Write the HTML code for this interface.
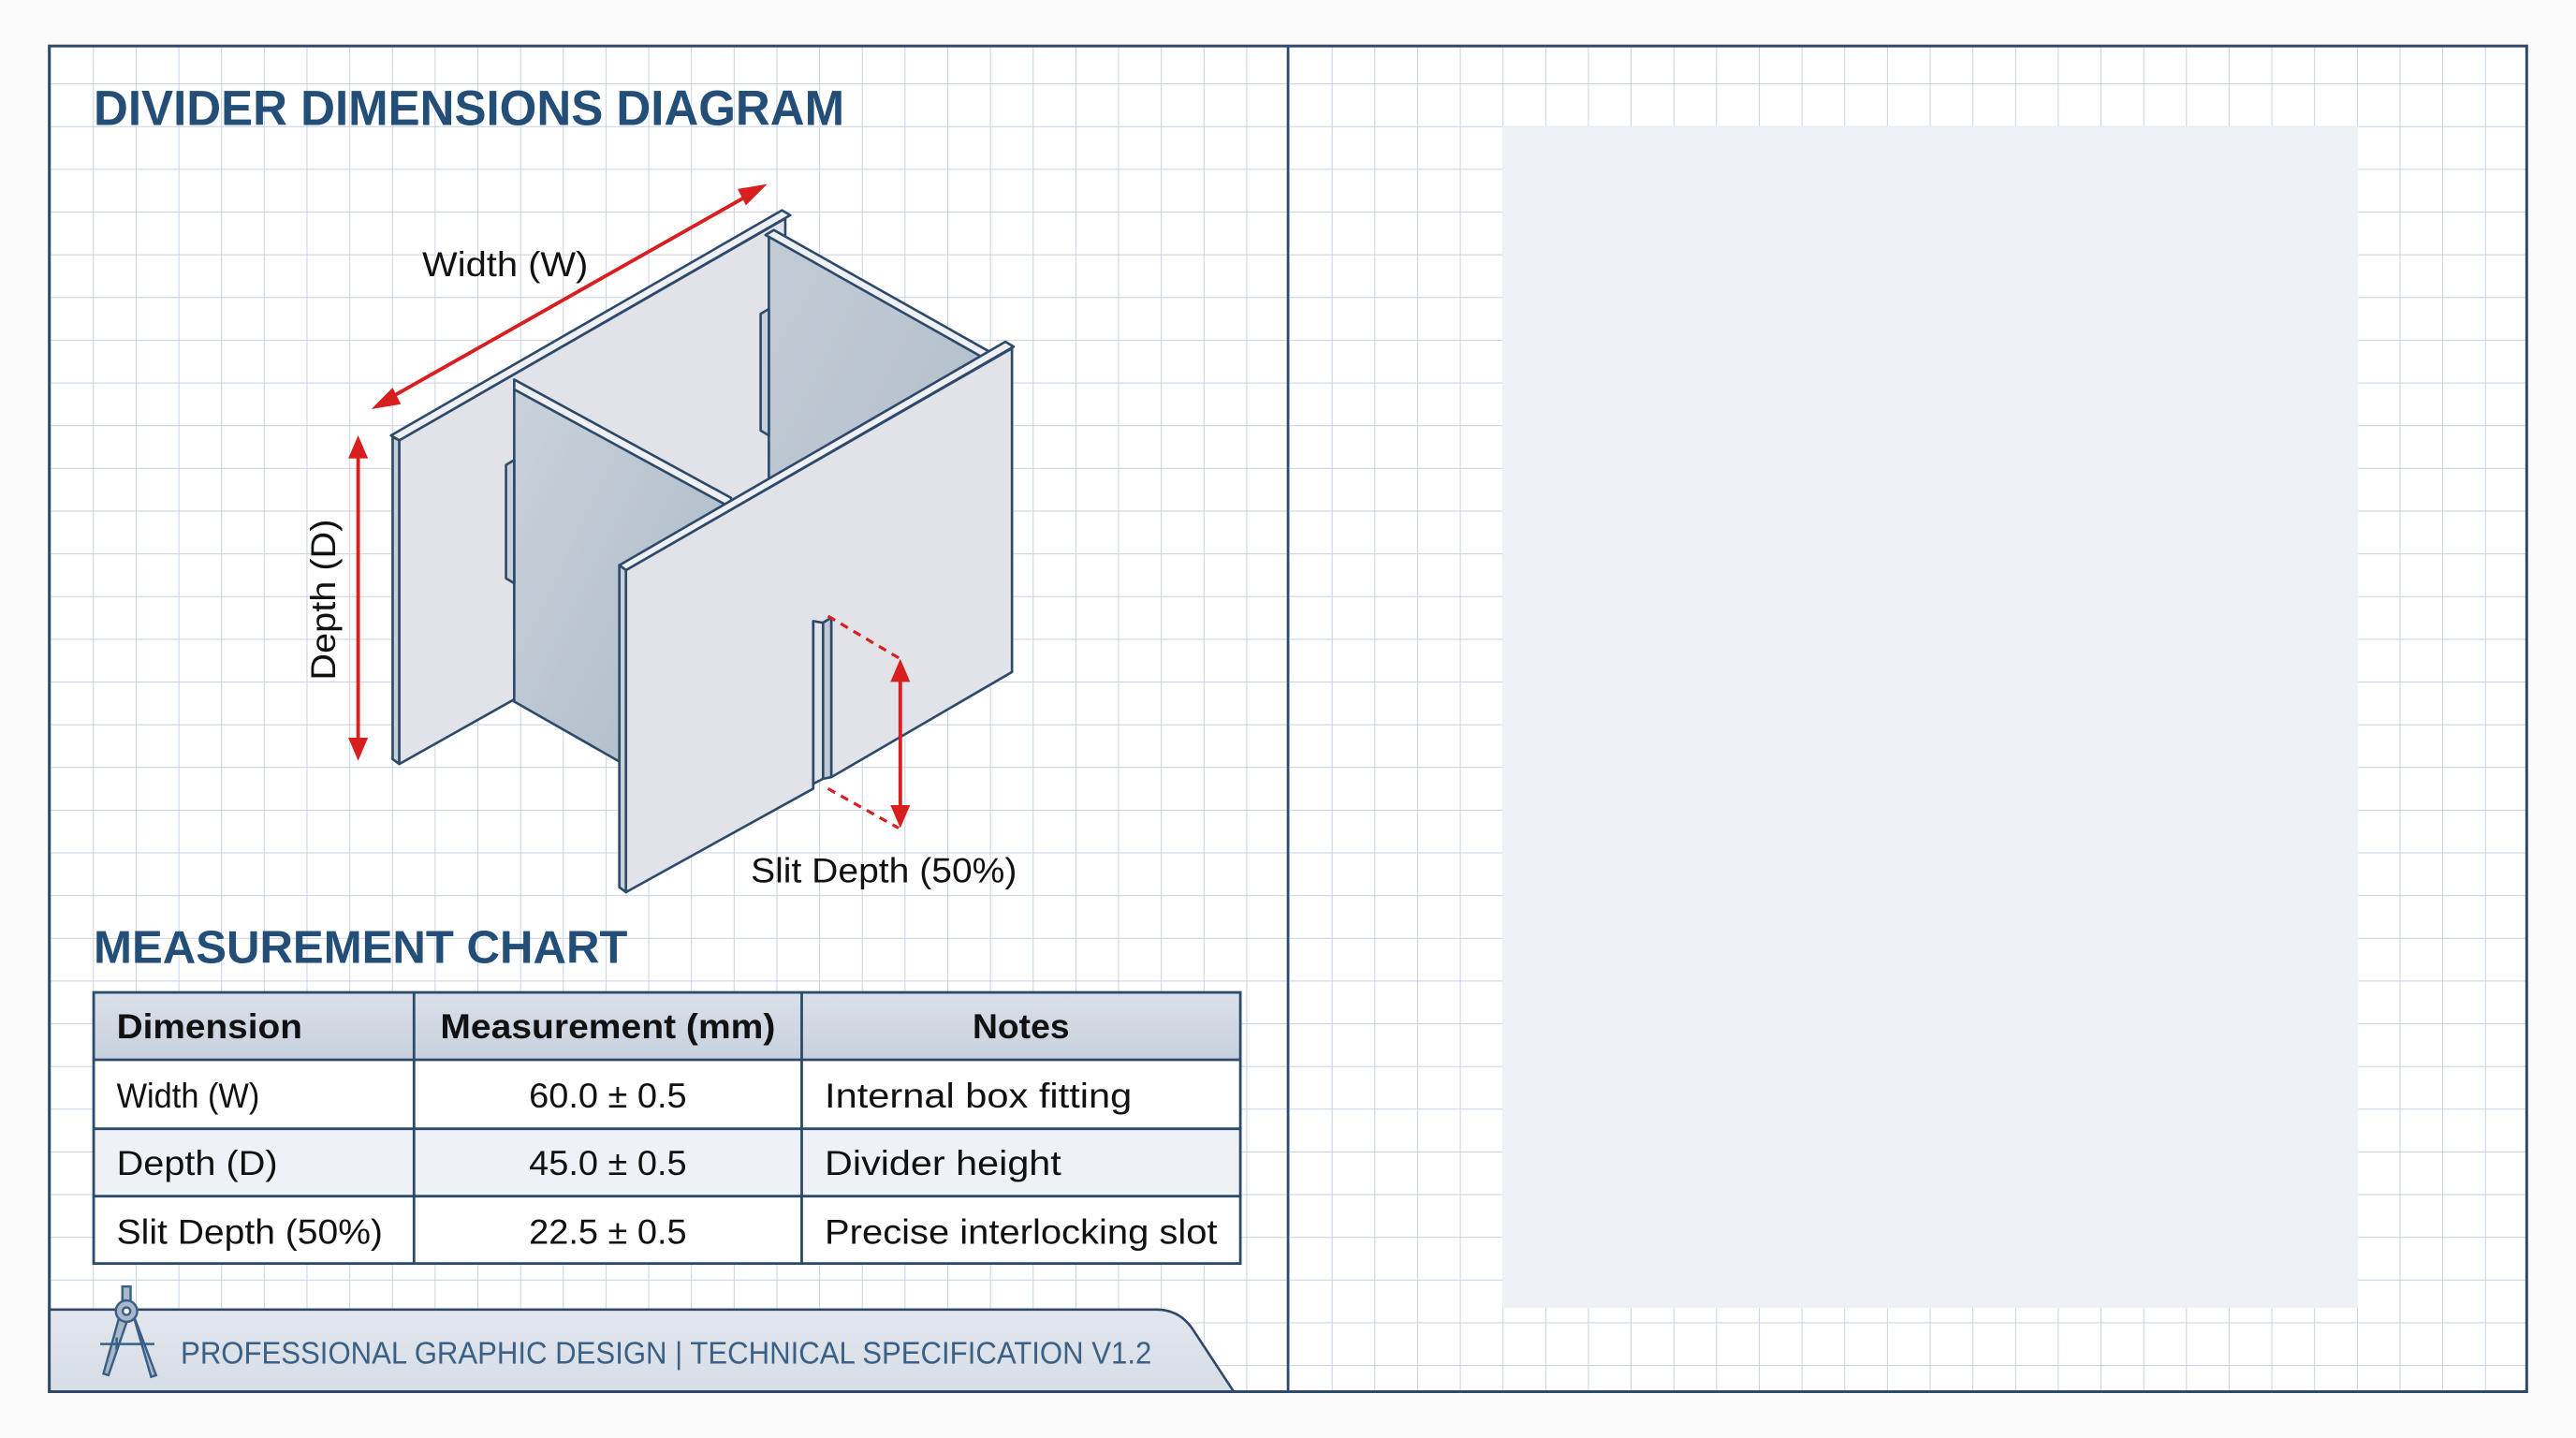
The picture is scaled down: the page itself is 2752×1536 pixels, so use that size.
<!DOCTYPE html>
<html><head><meta charset="utf-8"><style>
html,body{margin:0;padding:0;background:#fafafa;}
svg{display:block;}
text{font-family:"Liberation Sans",sans-serif;}
</style></head><body>
<svg width="2752" height="1536" viewBox="0 0 1568 875.2" preserveAspectRatio="none" xmlns="http://www.w3.org/2000/svg">
<defs>
<pattern id="grid" x="4.6" y="24.8" width="26" height="26" patternUnits="userSpaceOnUse">
<path d="M0 0H26M0 0V26" stroke="#c6d1e3" stroke-width="1.1" fill="none"/>
</pattern>
<linearGradient id="hdr" x1="0" y1="0" x2="0" y2="1"><stop offset="0" stop-color="#d9e0e9"/><stop offset="1" stop-color="#c7d1dd"/></linearGradient>
<linearGradient id="shC" x1="0" y1="0" x2="1" y2="1"><stop offset="0" stop-color="#c9d2dc"/><stop offset="1" stop-color="#a9b7c5"/></linearGradient>
<linearGradient id="shB" x1="0" y1="0" x2="1" y2="1"><stop offset="0" stop-color="#c2ccd7"/><stop offset="1" stop-color="#aebbc8"/></linearGradient>
<linearGradient id="foot" x1="0" y1="0" x2="0" y2="1"><stop offset="0" stop-color="#e3e7ed"/><stop offset="1" stop-color="#d6dde5"/></linearGradient>
</defs>
<rect x="0" y="0" width="1568" height="876" fill="#fafafa"/>
<rect x="30" y="28" width="1508" height="819" fill="#ffffff"/>
<rect x="30" y="28" width="1508" height="819" fill="url(#grid)"/>
<rect x="914.5" y="77" width="521" height="719" fill="#eef1f6"/>
<path d="M30 797 H704 Q718 797 726 809 L751 847 H30 Z" fill="url(#foot)" stroke="#2e4a68" stroke-width="1.5"/>
<rect x="30" y="28" width="1508" height="819" fill="none" stroke="#2e4a68" stroke-width="1.7"/>
<line x1="784" y1="28" x2="784" y2="847" stroke="#2e4a68" stroke-width="1.5"/>

<text x="57" y="76" font-size="30" font-weight="bold" fill="#234e78" textLength="457" lengthAdjust="spacingAndGlyphs">DIVIDER DIMENSIONS DIAGRAM</text>

<g stroke="#2e4a6a" stroke-width="1.5" stroke-linejoin="round">
<polygon points="243,268 478,133 478,333 243,465" fill="#e1e3e9"/>
<polygon points="238,265 476,128 481,131 243,268" fill="#eef0f4"/>
<polygon points="239,266 243,268 243,465 239,462" fill="#c8d0da"/>
<polygon points="468,143 602,218 602,400 468,320" fill="url(#shB)"/>
<polygon points="466,143 471,140 604,215 599,218" fill="#eef0f4"/>
<polygon points="468,188 463,191 463,262 468,265" fill="#c8d0da"/>
<polygon points="313,235 441,306 441,500 313,427" fill="url(#shC)"/>
<polygon points="313,231 445,303 445,309 313,237" fill="#eef0f4"/>
<polygon points="313,280 308,283 308,352 313,355" fill="#c8d0da"/>
<polygon points="381,347 616,212 616,409 506,473 506,376 501,379 501,474 495,477 495,378 495,480 381,543" fill="#e1e3e9"/>
<polygon points="501,379 506,376 506,473 501,474" fill="#bfc8d3"/>
<polygon points="377,344 612,208 617,211 381,347" fill="#eef0f4"/>
<polygon points="377,344 381,347 381,543 377,540" fill="#c8d0da"/>
<line x1="495" y1="378" x2="495" y2="480"/>
<line x1="495" y1="378" x2="501" y2="379"/>
</g>

<g stroke="#d81e1e" stroke-width="2.2" fill="#d81e1e">
<line x1="236" y1="243" x2="457" y2="118"/>
<polygon points="226,249 239,236 244,246" stroke="none"/>
<polygon points="467,112 454,125 449,115" stroke="none"/>
<line x1="218" y1="277" x2="218" y2="451"/>
<polygon points="218,265 212,279 224,279" stroke="none"/>
<polygon points="218,463 212,449 224,449" stroke="none"/>
<line x1="548" y1="413" x2="548" y2="492"/>
<polygon points="548,401 542,415 554,415" stroke="none"/>
<polygon points="548,504 542,490 554,490" stroke="none"/>
<line x1="504" y1="375" x2="548" y2="401" stroke-dasharray="5,4" stroke-width="1.8"/>
<line x1="504" y1="480" x2="547" y2="504" stroke-dasharray="5,4" stroke-width="1.8"/>
</g>

<text x="257" y="168" font-size="21" fill="#111" textLength="101" lengthAdjust="spacingAndGlyphs">Width (W)</text>
<text transform="translate(204,365) rotate(-90)" x="0" y="0" text-anchor="middle" font-size="21" fill="#111" textLength="98" lengthAdjust="spacingAndGlyphs">Depth (D)</text>
<text x="457" y="537" font-size="21" fill="#111" textLength="162" lengthAdjust="spacingAndGlyphs">Slit Depth (50%)</text>

<text x="57" y="586" font-size="28" font-weight="bold" fill="#234e78" textLength="325" lengthAdjust="spacingAndGlyphs">MEASUREMENT CHART</text>

<rect x="57" y="604" width="698" height="41" fill="url(#hdr)"/>
<rect x="57" y="645" width="698" height="42" fill="#ffffff"/>
<rect x="57" y="687" width="698" height="41" fill="#eef1f5"/>
<rect x="57" y="728" width="698" height="41" fill="#ffffff"/>
<g stroke="#2c4a6b" stroke-width="1.6" fill="none">
<rect x="57" y="604" width="698" height="165"/>
<line x1="57" y1="645" x2="755" y2="645"/>
<line x1="57" y1="687" x2="755" y2="687"/>
<line x1="57" y1="728" x2="755" y2="728"/>
<line x1="252" y1="604" x2="252" y2="769"/>
<line x1="488" y1="604" x2="488" y2="769"/>
</g>
<g font-size="21" fill="#111">
<text x="71" y="632" font-weight="bold" textLength="113" lengthAdjust="spacingAndGlyphs">Dimension</text>
<text x="268" y="632" font-weight="bold" textLength="204" lengthAdjust="spacingAndGlyphs">Measurement (mm)</text>
<text x="592" y="632" font-weight="bold" textLength="59" lengthAdjust="spacingAndGlyphs">Notes</text>
<text x="71" y="674" textLength="87" lengthAdjust="spacingAndGlyphs">Width (W)</text>
<text x="322" y="674" textLength="96" lengthAdjust="spacingAndGlyphs">60.0 ± 0.5</text>
<text x="502" y="674" textLength="187" lengthAdjust="spacingAndGlyphs">Internal box fitting</text>
<text x="71" y="715" textLength="98" lengthAdjust="spacingAndGlyphs">Depth (D)</text>
<text x="322" y="715" textLength="96" lengthAdjust="spacingAndGlyphs">45.0 ± 0.5</text>
<text x="502" y="715" textLength="144" lengthAdjust="spacingAndGlyphs">Divider height</text>
<text x="71" y="757" textLength="162" lengthAdjust="spacingAndGlyphs">Slit Depth (50%)</text>
<text x="322" y="757" textLength="96" lengthAdjust="spacingAndGlyphs">22.5 ± 0.5</text>
<text x="502" y="757" textLength="239" lengthAdjust="spacingAndGlyphs">Precise interlocking slot</text>
</g>

<g stroke="#3a5f86" stroke-width="1.4" fill="#a9b8c8">
<rect x="74.5" y="783" width="5" height="9"/>
<polygon points="73,800 63,836 66,837 77,805"/>
<polygon points="81,800 92,838 95,837 83,805"/>
<circle cx="77" cy="798" r="6.5"/>
<circle cx="77" cy="798" r="2.3" fill="#fff"/>
<line x1="61" y1="818" x2="94" y2="818" fill="none"/>
<line x1="71" y1="814" x2="71" y2="822" fill="none"/>
</g>
<text x="110" y="830" font-size="19" fill="#3a6088" textLength="591" lengthAdjust="spacingAndGlyphs">PROFESSIONAL GRAPHIC DESIGN | TECHNICAL SPECIFICATION V1.2</text>
</svg>
</body></html>
